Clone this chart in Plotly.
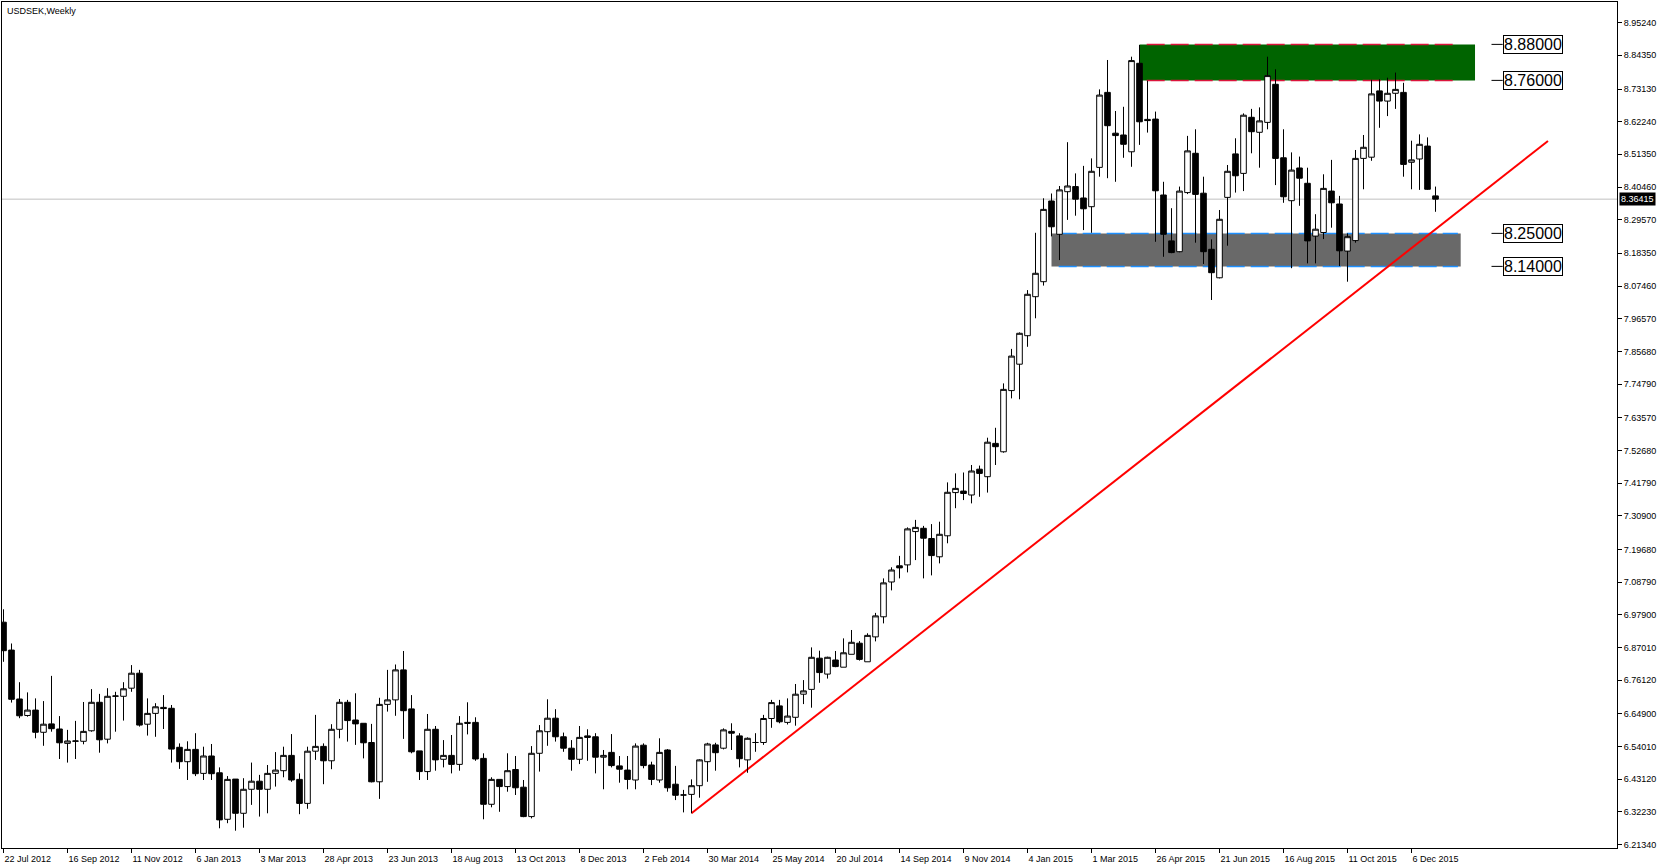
import pandas as pd
import plotly.graph_objects as go

# ---------------- data (weekly USDSEK candles) ----------------
first_week = "2012-07-22"
n_weeks = 180

open_ = [6.954, 6.861, 6.698, 6.643, 6.661, 6.587, 6.615, 6.598, 6.550, 6.557,
         6.557, 6.592, 6.687, 6.564, 6.707, 6.707, 6.734, 6.784, 6.614, 6.650,
         6.670, 6.667, 6.537, 6.489, 6.530, 6.450, 6.508, 6.452, 6.297, 6.431,
         6.317, 6.397, 6.424, 6.397, 6.450, 6.459, 6.510, 6.430, 6.350, 6.524,
         6.540, 6.492, 6.597, 6.687, 6.628, 6.617, 6.553, 6.422, 6.680, 6.695,
         6.795, 6.665, 6.525, 6.456, 6.597, 6.497, 6.510, 6.480, 6.620, 6.620,
         6.500, 6.347, 6.430, 6.406, 6.463, 6.404, 6.306, 6.517, 6.589, 6.634,
         6.572, 6.534, 6.497, 6.575, 6.572, 6.504, 6.520, 6.475, 6.461, 6.428,
         6.544, 6.478, 6.428, 6.528, 6.414, 6.378, 6.380, 6.409, 6.489, 6.545,
         6.534, 6.590, 6.575, 6.495, 6.553, 6.553, 6.633, 6.675, 6.620, 6.637,
         6.714, 6.730, 6.834, 6.781, 6.828, 6.804, 6.847, 6.884, 6.822, 6.905,
         6.972, 7.088, 7.142, 7.145, 7.256, 7.267, 7.233, 7.172, 7.242, 7.386,
         7.391, 7.378, 7.464, 7.439, 7.550, 7.522, 7.726, 7.814, 7.909, 8.039,
         8.089, 8.358, 8.247, 8.389, 8.406, 8.368, 8.339, 8.470, 8.720, 8.584,
         8.578, 8.522, 8.817, 8.630, 8.631, 8.378, 8.225, 8.189, 8.386, 8.517,
         8.384, 8.197, 8.102, 8.370, 8.515, 8.450, 8.637, 8.587, 8.620, 8.747,
         8.502, 8.359, 8.468, 8.417, 8.241, 8.253, 8.391, 8.348, 8.191, 8.226,
         8.500, 8.504, 8.725, 8.691, 8.717, 8.720, 8.487, 8.498, 8.541, 8.375]

high = [6.997, 6.883, 6.754, 6.720, 6.700, 6.691, 6.775, 6.641, 6.595, 6.625,
        6.688, 6.731, 6.715, 6.734, 6.722, 6.754, 6.811, 6.795, 6.700, 6.684,
        6.711, 6.678, 6.550, 6.557, 6.584, 6.539, 6.548, 6.470, 6.441, 6.431,
        6.434, 6.486, 6.445, 6.478, 6.521, 6.539, 6.581, 6.450, 6.539, 6.645,
        6.550, 6.614, 6.698, 6.695, 6.717, 6.617, 6.615, 6.702, 6.795, 6.813,
        6.858, 6.711, 6.525, 6.648, 6.608, 6.561, 6.578, 6.641, 6.687, 6.637,
        6.517, 6.437, 6.430, 6.517, 6.508, 6.428, 6.541, 6.611, 6.697, 6.664,
        6.586, 6.561, 6.608, 6.597, 6.584, 6.528, 6.581, 6.508, 6.508, 6.550,
        6.550, 6.489, 6.567, 6.531, 6.475, 6.395, 6.430, 6.497, 6.552, 6.552,
        6.600, 6.617, 6.584, 6.570, 6.584, 6.645, 6.695, 6.695, 6.700, 6.748,
        6.761, 6.870, 6.859, 6.839, 6.858, 6.900, 6.928, 6.891, 6.917, 6.985,
        7.100, 7.137, 7.175, 7.270, 7.295, 7.275, 7.281, 7.289, 7.420, 7.450,
        7.453, 7.478, 7.476, 7.569, 7.602, 7.750, 7.865, 7.920, 8.061, 8.252,
        8.367, 8.383, 8.408, 8.554, 8.450, 8.475, 8.500, 8.730, 8.828, 8.658,
        8.672, 8.839, 8.878, 8.759, 8.656, 8.422, 8.334, 8.406, 8.575, 8.597,
        8.439, 8.230, 8.328, 8.478, 8.567, 8.650, 8.665, 8.670, 8.839, 8.797,
        8.597, 8.520, 8.506, 8.469, 8.314, 8.447, 8.495, 8.375, 8.250, 8.528,
        8.578, 8.762, 8.764, 8.769, 8.786, 8.752, 8.559, 8.580, 8.570, 8.406]

low = [6.822, 6.686, 6.634, 6.639, 6.567, 6.542, 6.589, 6.498, 6.486, 6.498,
       6.547, 6.589, 6.519, 6.550, 6.589, 6.626, 6.722, 6.606, 6.576, 6.572,
       6.598, 6.486, 6.465, 6.428, 6.441, 6.428, 6.428, 6.267, 6.284, 6.259,
       6.269, 6.345, 6.306, 6.317, 6.406, 6.437, 6.422, 6.314, 6.332, 6.495,
       6.414, 6.464, 6.567, 6.556, 6.545, 6.500, 6.420, 6.365, 6.656, 6.642,
       6.565, 6.517, 6.428, 6.428, 6.459, 6.470, 6.450, 6.459, 6.580, 6.492,
       6.297, 6.337, 6.322, 6.389, 6.378, 6.304, 6.300, 6.456, 6.542, 6.556,
       6.522, 6.459, 6.481, 6.492, 6.450, 6.397, 6.470, 6.419, 6.397, 6.397,
       6.467, 6.411, 6.419, 6.389, 6.361, 6.320, 6.317, 6.369, 6.422, 6.459,
       6.530, 6.528, 6.470, 6.452, 6.522, 6.545, 6.602, 6.617, 6.613, 6.609,
       6.681, 6.669, 6.752, 6.766, 6.804, 6.804, 6.847, 6.826, 6.822, 6.890,
       6.950, 7.060, 7.100, 7.120, 7.161, 7.100, 7.110, 7.150, 7.217, 7.334,
       7.361, 7.350, 7.372, 7.386, 7.478, 7.519, 7.700, 7.697, 7.872, 7.967,
       8.076, 8.240, 8.161, 8.295, 8.309, 8.261, 8.252, 8.439, 8.434, 8.422,
       8.502, 8.472, 8.545, 8.586, 8.222, 8.172, 8.184, 8.187, 8.381, 8.219,
       8.148, 8.028, 8.100, 8.209, 8.386, 8.391, 8.517, 8.469, 8.597, 8.411,
       8.352, 8.134, 8.342, 8.150, 8.150, 8.231, 8.269, 8.141, 8.089, 8.219,
       8.397, 8.492, 8.602, 8.641, 8.665, 8.439, 8.397, 8.395, 8.395, 8.322]

close = [6.859, 6.697, 6.642, 6.661, 6.587, 6.614, 6.599, 6.552, 6.558, 6.558,
         6.590, 6.687, 6.562, 6.707, 6.708, 6.732, 6.784, 6.611, 6.650, 6.672,
         6.666, 6.531, 6.489, 6.530, 6.449, 6.508, 6.449, 6.295, 6.430, 6.317,
         6.397, 6.424, 6.397, 6.450, 6.461, 6.510, 6.428, 6.350, 6.524, 6.540,
         6.492, 6.597, 6.687, 6.626, 6.615, 6.552, 6.422, 6.680, 6.695, 6.795,
         6.659, 6.522, 6.456, 6.597, 6.495, 6.510, 6.480, 6.617, 6.617, 6.498,
         6.347, 6.430, 6.406, 6.459, 6.402, 6.306, 6.517, 6.592, 6.634, 6.572,
         6.534, 6.497, 6.570, 6.570, 6.504, 6.510, 6.476, 6.464, 6.430, 6.541,
         6.476, 6.430, 6.520, 6.402, 6.377, 6.378, 6.409, 6.495, 6.548, 6.519,
         6.595, 6.584, 6.499, 6.567, 6.553, 6.633, 6.686, 6.622, 6.641, 6.714,
         6.725, 6.837, 6.786, 6.837, 6.806, 6.852, 6.887, 6.830, 6.910, 6.975,
         7.085, 7.128, 7.135, 7.265, 7.270, 7.234, 7.176, 7.247, 7.387, 7.400,
         7.383, 7.458, 7.450, 7.554, 7.539, 7.730, 7.841, 7.917, 8.047, 8.117,
         8.330, 8.272, 8.395, 8.408, 8.364, 8.332, 8.457, 8.711, 8.609, 8.576,
         8.547, 8.826, 8.622, 8.626, 8.392, 8.247, 8.186, 8.391, 8.525, 8.380,
         8.189, 8.119, 8.297, 8.457, 8.442, 8.644, 8.589, 8.625, 8.776, 8.500,
         8.372, 8.461, 8.434, 8.225, 8.264, 8.400, 8.352, 8.192, 8.239, 8.500,
         8.537, 8.715, 8.691, 8.717, 8.730, 8.480, 8.495, 8.547, 8.397, 8.36415]

date_labels = ["22 Jul 2012", "16 Sep 2012", "11 Nov 2012", "6 Jan 2013", "3 Mar 2013",
               "28 Apr 2013", "23 Jun 2013", "18 Aug 2013", "13 Oct 2013", "8 Dec 2013",
               "2 Feb 2014", "30 Mar 2014", "25 May 2014", "20 Jul 2014", "14 Sep 2014",
               "9 Nov 2014", "4 Jan 2015", "1 Mar 2015", "26 Apr 2015", "21 Jun 2015",
               "16 Aug 2015", "11 Oct 2015", "6 Dec 2015"]

price_ticks = [8.95240, 8.84350, 8.73130, 8.62240, 8.51350, 8.40460, 8.29570, 8.18350,
               8.07460, 7.96570, 7.85680, 7.74790, 7.63570, 7.52680, 7.41790, 7.30900,
               7.19680, 7.08790, 6.97900, 6.87010, 6.76120, 6.64900, 6.54010, 6.43120,
               6.32230, 6.21340]

current_price = 8.36415
resistance_zone = [8.76, 8.88]
support_zone = [8.14, 8.25]
trend_start_week = 86
trend_start_price = 6.317
trend_end_week = 193.06
trend_end_price = 8.558

# ---------------- build ----------------
start = pd.Timestamp(first_week)
dates = pd.date_range(start, periods=n_weeks, freq="7D")
tick_dates = pd.to_datetime(date_labels, format="%d %b %Y")


def wk(k):
    return start + pd.Timedelta(days=7 * k)


FONT = "Liberation Sans, Arial, sans-serif"

fig = go.Figure()
fig.add_trace(go.Candlestick(
    x=dates, open=open_, high=high, low=low, close=close,
    increasing=dict(line=dict(color="black", width=1), fillcolor="white"),
    decreasing=dict(line=dict(color="black", width=1), fillcolor="black"),
    whiskerwidth=0, showlegend=False, hoverinfo="skip",
))

shapes = []
# current price line
shapes.append(dict(type="line", xref="paper", x0=0, x1=1, yref="y",
                   y0=current_price, y1=current_price,
                   line=dict(color="#C0C0C0", width=1), layer="below"))
# zones
shapes.append(dict(type="rect", xref="x", yref="y", x0=wk(142), x1=wk(183.94),
                   y0=resistance_zone[0], y1=resistance_zone[1],
                   fillcolor="#006400", line=dict(width=0), layer="below"))
shapes.append(dict(type="rect", xref="x", yref="y", x0=wk(131), x1=wk(182.15),
                   y0=support_zone[0], y1=support_zone[1],
                   fillcolor="#696969", line=dict(width=0), layer="below"))
for lvl in resistance_zone:
    shapes.append(dict(type="line", xref="x", yref="y", x0=wk(142.9), x1=wk(181.2),
                       y0=lvl, y1=lvl, line=dict(color="#DC143C", width=1.5, dash="18px,6px"),
                       layer="below"))
for lvl in support_zone:
    shapes.append(dict(type="line", xref="x", yref="y", x0=wk(131.9), x1=wk(181.8),
                       y0=lvl, y1=lvl, line=dict(color="#1E90FF", width=1.5, dash="18px,6px"),
                       layer="below"))
# trend line
shapes.append(dict(type="line", xref="x", yref="y",
                   x0=wk(trend_start_week), y0=trend_start_price,
                   x1=wk(trend_end_week), y1=trend_end_price,
                   line=dict(color="#FF0000", width=2), layer="below"))

annotations = []
for lvl in resistance_zone + support_zone:
    shapes.append(dict(type="line", xref="x", yref="y", x0=wk(186.0), x1=wk(187.4),
                       y0=lvl, y1=lvl, line=dict(color="black", width=1)))
    annotations.append(dict(x=wk(191.2), y=lvl, xref="x", yref="y", text=f"{lvl:.5f}",
                            showarrow=False, xanchor="center", yanchor="middle",
                            font=dict(family=FONT, size=16, color="black"),
                            bgcolor="white", bordercolor="black", borderwidth=1, borderpad=0))

annotations.append(dict(x=0, y=1, xref="paper", yref="paper", text="USDSEK,Weekly",
                        showarrow=False, xanchor="left", yanchor="top", xshift=3, yshift=-2,
                        font=dict(family=FONT, size=9, color="black")))
annotations.append(dict(x=1, y=current_price, xref="paper", yref="y", text=f"{current_price:.5f}",
                        showarrow=False, xanchor="left", yanchor="middle", xshift=2,
                        font=dict(family=FONT, size=9, color="white"),
                        bgcolor="black", borderpad=1))

left = wk((2 - 3.5) / 8)
right = wk((1617 - 3.5) / 8)

fig.update_layout(
    width=1660, height=868,
    margin=dict(l=2, r=43, t=2, b=20, pad=0),
    paper_bgcolor="white", plot_bgcolor="white",
    boxgap=0.3, boxgroupgap=0,
    shapes=shapes, annotations=annotations,
    showlegend=False,
    font=dict(family=FONT, size=9, color="black"),
    xaxis=dict(type="date", range=[left, right], rangeslider=dict(visible=False),
               showgrid=False, zeroline=False, showline=True, linecolor="black", linewidth=1,
               mirror=True, ticks="outside", ticklen=4, tickcolor="black",
               tickvals=tick_dates, ticktext=date_labels, ticklabelposition="outside right",
               ticklabelstandoff=2,
               tickfont=dict(family=FONT, size=9, color="black")),
    yaxis=dict(side="right", range=[6.2013, 9.0213], showgrid=False, zeroline=False,
               showline=True, linecolor="black", linewidth=1, mirror=True,
               ticks="outside", ticklen=4, tickcolor="black",
               tickvals=price_ticks, ticktext=[f"{v:.5f}" for v in price_ticks],
               tickfont=dict(family=FONT, size=9, color="black")),
)

fig.write_html("out.html", config={"displayModeBar": False},
               post_script="document.body.style.margin='0';document.body.style.overflow='hidden';")
